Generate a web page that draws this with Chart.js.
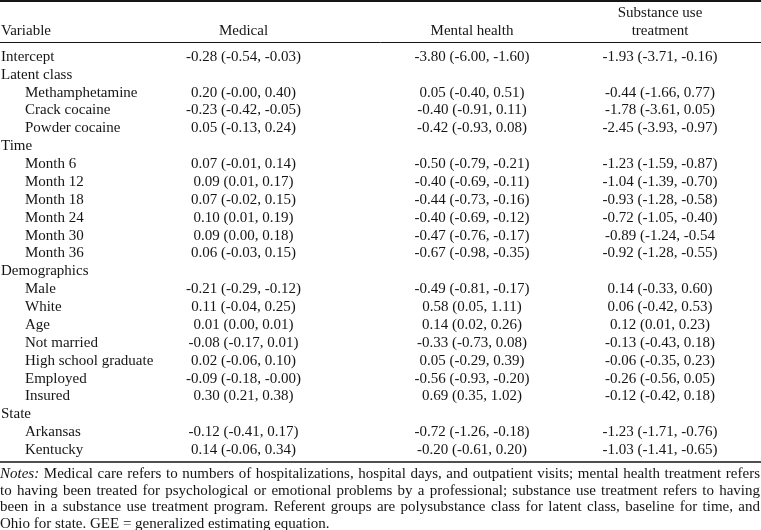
<!DOCTYPE html>
<html>
<head>
<meta charset="utf-8">
<script src="https://cdn.jsdelivr.net/npm/chart.js@4"></script>
<style>
    html, body { margin: 0; padding: 0; background: #fff; }
    #wrap { width: 761px; height: 530px; position: relative; }
</style>
</head>
<body>
<div id="wrap"><canvas id="tableChart"></canvas></div>
<script>
// Table content
const headers = ['Variable', 'Medical', 'Mental health', ['Substance use', 'treatment']];

const rows = [
    'Intercept', 'Latent class', 'Methamphetamine', 'Crack cocaine', 'Powder cocaine',
    'Time', 'Month 6', 'Month 12', 'Month 18', 'Month 24', 'Month 30', 'Month 36',
    'Demographics', 'Male', 'White', 'Age', 'Not married', 'High school graduate', 'Employed', 'Insured',
    'State', 'Arkansas', 'Kentucky'
];

// 0 = top level, 1 = indented
const rowLevel = [0, 0, 1, 1, 1, 0, 1, 1, 1, 1, 1, 1, 0, 1, 1, 1, 1, 1, 1, 1, 0, 1, 1];

const medical = [
    '-0.28 (-0.54, -0.03)', '', '0.20 (-0.00, 0.40)', '-0.23 (-0.42, -0.05)', '0.05 (-0.13, 0.24)',
    '', '0.07 (-0.01, 0.14)', '0.09 (0.01, 0.17)', '0.07 (-0.02, 0.15)', '0.10 (0.01, 0.19)', '0.09 (0.00, 0.18)', '0.06 (-0.03, 0.15)',
    '', '-0.21 (-0.29, -0.12)', '0.11 (-0.04, 0.25)', '0.01 (0.00, 0.01)', '-0.08 (-0.17, 0.01)', '0.02 (-0.06, 0.10)', '-0.09 (-0.18, -0.00)', '0.30 (0.21, 0.38)',
    '', '-0.12 (-0.41, 0.17)', '0.14 (-0.06, 0.34)'
];

const mentalHealth = [
    '-3.80 (-6.00, -1.60)', '', '0.05 (-0.40, 0.51)', '-0.40 (-0.91, 0.11)', '-0.42 (-0.93, 0.08)',
    '', '-0.50 (-0.79, -0.21)', '-0.40 (-0.69, -0.11)', '-0.44 (-0.73, -0.16)', '-0.40 (-0.69, -0.12)', '-0.47 (-0.76, -0.17)', '-0.67 (-0.98, -0.35)',
    '', '-0.49 (-0.81, -0.17)', '0.58 (0.05, 1.11)', '0.14 (0.02, 0.26)', '-0.33 (-0.73, 0.08)', '0.05 (-0.29, 0.39)', '-0.56 (-0.93, -0.20)', '0.69 (0.35, 1.02)',
    '', '-0.72 (-1.26, -0.18)', '-0.20 (-0.61, 0.20)'
];

const substanceUse = [
    '-1.93 (-3.71, -0.16)', '', '-0.44 (-1.66, 0.77)', '-1.78 (-3.61, 0.05)', '-2.45 (-3.93, -0.97)',
    '', '-1.23 (-1.59, -0.87)', '-1.04 (-1.39, -0.70)', '-0.93 (-1.28, -0.58)', '-0.72 (-1.05, -0.40)', '-0.89 (-1.24, -0.54', '-0.92 (-1.28, -0.55)',
    '', '0.14 (-0.33, 0.60)', '0.06 (-0.42, 0.53)', '0.12 (0.01, 0.23)', '-0.13 (-0.43, 0.18)', '-0.06 (-0.35, 0.23)', '-0.26 (-0.56, 0.05)', '-0.12 (-0.42, 0.18)',
    '', '-1.23 (-1.71, -0.76)', '-1.03 (-1.41, -0.65)'
];

const notesLines = [
    'Medical care refers to numbers of hospitalizations, hospital days, and outpatient visits; mental health treatment refers',
    'to having been treated for psychological or emotional problems by a professional; substance use treatment refers to having',
    'been in a substance use treatment program. Referent groups are polysubstance class for latent class, baseline for time, and',
    'Ohio for state. GEE = generalized estimating equation.'
];

// Layout
const colCenter = [243.5, 472, 660];
const FONT = '15px "Liberation Serif", "Times New Roman", serif';
const ITALIC = 'italic 15px "Liberation Serif", "Times New Roman", serif';
const INK = '#151515';

function cellData(values, x) {
    const out = [];
    values.forEach((v, i) => {
        if (v) out.push({ x: x, y: rows[i], text: v });
    });
    return out;
}

const tableText = {
    id: 'tableText',
    afterDatasetsDraw(chart) {
        const ctx = chart.ctx;
        const yScale = chart.scales.y;
        const W = chart.width;
        ctx.save();
        ctx.fillStyle = INK;
        ctx.strokeStyle = INK;
        ctx.font = FONT;
        ctx.textBaseline = 'middle';

        // rules
        ctx.lineWidth = 2;
        ctx.beginPath(); ctx.moveTo(0, 1); ctx.lineTo(W, 1); ctx.stroke();
        ctx.lineWidth = 1;
        ctx.beginPath(); ctx.moveTo(0, 42.5); ctx.lineTo(W, 42.5); ctx.stroke();
        ctx.lineWidth = 1.5;
        ctx.beginPath(); ctx.moveTo(0, 462); ctx.lineTo(W, 462); ctx.stroke();

        // header
        ctx.textAlign = 'left';
        ctx.fillText(headers[0], 1, 31);
        ctx.textAlign = 'center';
        ctx.fillText(headers[1], colCenter[0], 31);
        ctx.fillText(headers[2], colCenter[1], 31);
        ctx.fillText(headers[3][0], colCenter[2], 13);
        ctx.fillText(headers[3][1], colCenter[2], 31);

        // row labels
        ctx.textAlign = 'left';
        rows.forEach((r, i) => {
            ctx.fillText(r, rowLevel[i] ? 25 : 1, yScale.getPixelForValue(i));
        });

        // cells
        ctx.textAlign = 'center';
        chart.data.datasets.forEach((ds, d) => {
            chart.getDatasetMeta(d).data.forEach((pt, i) => {
                ctx.fillText(ds.data[i].text, pt.x, pt.y);
            });
        });

        // notes, justified except last line
        ctx.textAlign = 'left';
        const left = 0, right = 760;
        notesLines.forEach((line, k) => {
            const y = 474 + k * 16.6;
            const words = line.split(' ');
            const items = [];
            if (k === 0) items.push({ t: 'Notes:', f: ITALIC });
            words.forEach(w => items.push({ t: w, f: FONT }));
            let total = 0;
            items.forEach(it => { ctx.font = it.f; it.w = ctx.measureText(it.t).width; total += it.w; });
            ctx.font = FONT;
            const space = ctx.measureText(' ').width;
            const gap = k < notesLines.length - 1 ? (right - left - total) / (items.length - 1) : space;
            let x = left;
            items.forEach(it => {
                ctx.font = it.f;
                ctx.fillText(it.t, x, y);
                x += it.w + gap;
            });
        });
        ctx.restore();
    }
};

new Chart(document.getElementById('tableChart').getContext('2d'), {
    type: 'scatter',
    data: {
        datasets: [
            { label: 'Medical', data: cellData(medical, colCenter[0]), pointRadius: 0 },
            { label: 'Mental health', data: cellData(mentalHealth, colCenter[1]), pointRadius: 0 },
            { label: 'Substance use treatment', data: cellData(substanceUse, colCenter[2]), pointRadius: 0 }
        ]
    },
    options: {
        responsive: true,
        maintainAspectRatio: false,
        animation: false,
        layout: { padding: { top: 48, bottom: 71, left: 0, right: 0 } },
        plugins: {
            legend: { display: false },
            tooltip: { enabled: false }
        },
        scales: {
            x: { type: 'linear', min: 0, max: 761, display: false },
            y: { type: 'category', labels: rows, offset: true, display: false }
        }
    },
    plugins: [tableText]
});
</script>
</body>
</html>
